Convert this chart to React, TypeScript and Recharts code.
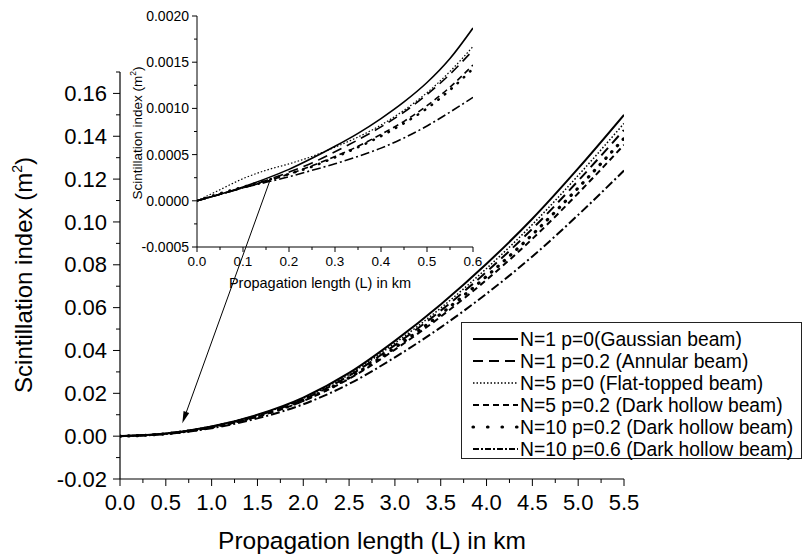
import React from 'react';
import { LineChart, Line, XAxis, YAxis, Legend, ReferenceLine } from 'recharts';

const FONT = '"Liberation Sans", Arial, Helvetica, sans-serif';

// ---------- main chart data ----------
const mainL = [0, 0.5, 1.0, 1.5, 2.0, 2.5, 3.0, 3.5, 4.0, 4.5, 5.0, 5.5];
const gaussianMain = [0, 0.0012, 0.0045, 0.01, 0.018, 0.0295, 0.0445, 0.0615, 0.0805, 0.1015, 0.125, 0.15];
const annularMain = [0, 0.0012, 0.0044, 0.0096, 0.0172, 0.0282, 0.0425, 0.0586, 0.0767, 0.0968, 0.1192, 0.143];
const flatMain = [0, 0.0013, 0.0046, 0.0099, 0.0176, 0.0288, 0.0434, 0.0598, 0.0783, 0.0988, 0.1217, 0.146];
const dark5Main = [0, 0.0011, 0.0041, 0.0091, 0.0164, 0.0268, 0.0404, 0.0558, 0.073, 0.0921, 0.1134, 0.136];
const dark10Main = [0, 0.0011, 0.0042, 0.0093, 0.0167, 0.0273, 0.0413, 0.057, 0.0746, 0.0941, 0.1159, 0.139];
const dark106Main = [0, 0.001, 0.0037, 0.0083, 0.0149, 0.0244, 0.0368, 0.0508, 0.0665, 0.0839, 0.1033, 0.124];

// ---------- inset data ----------
const insetL = [0, 0.05, 0.1, 0.15, 0.2, 0.25, 0.3, 0.35, 0.4, 0.45, 0.5, 0.55, 0.6];
const gaussianInset = [0, 0.00007, 0.00015, 0.00024, 0.00034, 0.00046, 0.00059, 0.00073, 0.00089, 0.00107, 0.00128, 0.00154, 0.00187];
const annularInset = [0, 0.00007, 0.00014, 0.00022, 0.00031, 0.00041, 0.00053, 0.00066, 0.0008, 0.00096, 0.00115, 0.00137, 0.00163];
const flatInset = [0, 0.00012, 0.00024, 0.00033, 0.0004, 0.00048, 0.00058, 0.00069, 0.00082, 0.00098, 0.00117, 0.0014, 0.00167];
const dark5Inset = [0, 0.00007, 0.00014, 0.00021, 0.00029, 0.00038, 0.00048, 0.00059, 0.00072, 0.00086, 0.00103, 0.00123, 0.00147];
const dark10Inset = [0, 0.00008, 0.00015, 0.00022, 0.00029, 0.00037, 0.00047, 0.00058, 0.0007, 0.00084, 0.001, 0.0012, 0.00143];
const dark106Inset = [0, 0.00007, 0.00014, 0.0002, 0.00026, 0.00033, 0.0004, 0.00048, 0.00057, 0.00068, 0.00081, 0.00096, 0.00112];

// ---------- ticks ----------
const mainXMajor = [0, 0.5, 1, 1.5, 2, 2.5, 3, 3.5, 4, 4.5, 5, 5.5];
const mainXLabels = ['0.0', '0.5', '1.0', '1.5', '2.0', '2.5', '3.0', '3.5', '4.0', '4.5', '5.0', '5.5'];
const mainXMinor = [0.25, 0.75, 1.25, 1.75, 2.25, 2.75, 3.25, 3.75, 4.25, 4.75, 5.25];
const mainYMajor = [-0.02, 0, 0.02, 0.04, 0.06, 0.08, 0.1, 0.12, 0.14, 0.16];
const mainYLabels = ['-0.02', '0.00', '0.02', '0.04', '0.06', '0.08', '0.10', '0.12', '0.14', '0.16'];
const mainYMinor = [-0.01, 0.01, 0.03, 0.05, 0.07, 0.09, 0.11, 0.13, 0.15, 0.17];

const insetXMajor = [0, 0.1, 0.2, 0.3, 0.4, 0.5, 0.6];
const insetXLabels = ['0.0', '0.1', '0.2', '0.3', '0.4', '0.5', '0.6'];
const insetXMinor = [0.05, 0.15, 0.25, 0.35, 0.45, 0.55];
const insetYMajor = [-0.0005, 0, 0.0005, 0.001, 0.0015, 0.002];
const insetYLabels = ['-0.0005', '0.0000', '0.0005', '0.0010', '0.0015', '0.0020'];
const insetYMinor = [-0.00025, 0.00025, 0.00075, 0.00125, 0.00175];

// arrow annotation (main-chart data coordinates)
const arrowFrom = { x: 1.644, y: 0.1203 };
const arrowTo = { x: 0.68, y: 0.006 };

const seriesNames = [
  'N=1 p=0(Gaussian beam)',
  'N=1 p=0.2 (Annular beam)',
  'N=5 p=0 (Flat-topped beam)',
  'N=5 p=0.2 (Dark hollow beam)',
  'N=10 p=0.2 (Dark hollow beam)',
  'N=10 p=0.6 (Dark hollow beam)',
];
const seriesKeys = ['g', 'a', 'f', 'd5', 'd10', 'd106'];

type Style = { dash?: string; w: number; cap?: 'round' | 'butt'; legendDash?: string };
const styles: Style[] = [
  { w: 2 },
  { dash: '10 6', w: 2 },
  { dash: '1.5 2', w: 1.5 },
  { dash: '6 4', w: 2 },
  { dash: '0.5 8', w: 3.2, cap: 'round', legendDash: '0.5 14' },
  { dash: '9 3 2 3', w: 2, legendDash: '6 2 2 2' },
];

const mainData = mainL.map((L, i) => ({
  L,
  g: gaussianMain[i],
  a: annularMain[i],
  f: flatMain[i],
  d5: dark5Main[i],
  d10: dark10Main[i],
  d106: dark106Main[i],
}));

const insetData = insetL.map((L, i) => ({
  L,
  g: gaussianInset[i],
  a: annularInset[i],
  f: flatInset[i],
  d5: dark5Inset[i],
  d10: dark10Inset[i],
  d106: dark106Inset[i],
}));

const findIdx = (arr: number[], v: number) => arr.findIndex((m) => Math.abs(m - v) < 1e-9);

const makeXTick = (majors: number[], labels: string[], majLen: number, minLen: number, fontSize: number, labelDy: number) =>
  (props: any) => {
    const { x, y, payload } = props;
    const idx = findIdx(majors, payload.value);
    const len = idx >= 0 ? majLen : minLen;
    return (
      <g>
        <line x1={x} x2={x} y1={y} y2={y + len} stroke="#000" strokeWidth={1} />
        {idx >= 0 && (
          <text x={x} y={y + labelDy} textAnchor="middle" fontSize={fontSize} fontFamily={FONT} fill="#000">
            {labels[idx]}
          </text>
        )}
      </g>
    );
  };

const makeYTick = (majors: number[], labels: string[], majLen: number, minLen: number, fontSize: number, gap: number) =>
  (props: any) => {
    const { x, y, payload } = props;
    const idx = findIdx(majors, payload.value);
    const len = idx >= 0 ? majLen : minLen;
    return (
      <g>
        <line x1={x - len} x2={x} y1={y} y2={y} stroke="#000" strokeWidth={1} />
        {idx >= 0 && (
          <text x={x - majLen - gap} y={y + fontSize * 0.35} textAnchor="end" fontSize={fontSize} fontFamily={FONT} fill="#000">
            {labels[idx]}
          </text>
        )}
      </g>
    );
  };

const ArrowShape = (p: any) => {
  const { x1, y1, x2, y2 } = p;
  if ([x1, y1, x2, y2].some((v) => typeof v !== 'number' || isNaN(v))) return <g />;
  const ang = Math.atan2(y2 - y1, x2 - x1);
  const L = 12;
  const W = 3;
  const bx = x2 - L * Math.cos(ang);
  const by = y2 - L * Math.sin(ang);
  const px = -Math.sin(ang) * W;
  const py = Math.cos(ang) * W;
  return (
    <g>
      <line x1={x1} y1={y1} x2={bx} y2={by} stroke="#000" strokeWidth={1} />
      <polygon points={`${x2},${y2} ${bx + px},${by + py} ${bx - px},${by - py}`} fill="#000" />
    </g>
  );
};

const LegendBox = () => (
  <div
    style={{
      width: 341,
      height: 137,
      border: '1px solid #222',
      background: '#fff',
      boxSizing: 'border-box',
      position: 'relative',
    }}
  >
    <svg width={341} height={137} style={{ position: 'absolute', left: 0, top: 0, overflow: 'visible' }}>
      {seriesNames.map((name, i) => {
        const cy = 16 + i * 22;
        const s = styles[i];
        return (
          <g key={name}>
            <line
              x1={11}
              x2={56}
              y1={cy}
              y2={cy}
              stroke="#000"
              strokeWidth={s.w}
              strokeDasharray={s.legendDash ?? s.dash}
              strokeLinecap={s.cap ?? 'butt'}
            />
            <text x={58} y={cy + 6.5} fontSize={19.3} fontFamily={FONT} fill="#000">
              {name}
            </text>
          </g>
        );
      })}
    </svg>
  </div>
);

const MainXTick = makeXTick(mainXMajor, mainXLabels, 7, 4, 22, 31);
const MainYTick = makeYTick(mainYMajor, mainYLabels, 7, 4, 22, 6);
const InsetXTick = makeXTick(insetXMajor, insetXLabels, 5, 3, 13.5, 19);
const InsetYTick = makeYTick(insetYMajor, insetYLabels, 5, 3, 14, 3);

export default function App() {
  return (
    <div style={{ position: 'absolute', left: 0, top: 0, width: 802, height: 556, overflow: 'hidden', background: '#fff' }}>
      {/* main chart */}
      <div style={{ position: 'absolute', left: 0, top: 0 }}>
        <LineChart width={802} height={556} data={mainData} margin={{ top: 72, right: 178, bottom: 0, left: 0 }}>
          <XAxis
            dataKey="L"
            type="number"
            domain={[0, 5.5]}
            ticks={[...mainXMajor, ...mainXMinor].sort((p, q) => p - q)}
            interval={0}
            tickLine={false}
            tickSize={0}
            tickMargin={0}
            tick={MainXTick}
            height={77}
            axisLine={{ stroke: '#000', strokeWidth: 1.2 }}
            allowDataOverflow
          />
          <YAxis
            type="number"
            domain={[-0.02, 0.17]}
            ticks={[...mainYMajor, ...mainYMinor].sort((p, q) => p - q)}
            interval={0}
            tickLine={false}
            tickSize={0}
            tickMargin={0}
            tick={MainYTick}
            width={120}
            axisLine={{ stroke: '#000', strokeWidth: 1.2 }}
            allowDataOverflow
          />
          <Legend
            layout="vertical"
            align="center"
            verticalAlign="middle"
            content={() => <LegendBox />}
            wrapperStyle={{ position: 'absolute', left: 461, top: 322, width: 341, height: 137 }}
          />
          <ReferenceLine
            segment={[arrowFrom, arrowTo]}
            ifOverflow="visible"
            stroke="#000"
            shape={ArrowShape}
          />
          {seriesKeys.map((k, i) => (
            <Line
              key={k}
              dataKey={k}
              name={seriesNames[i]}
              type="monotone"
              stroke="#000"
              strokeWidth={styles[i].w}
              strokeDasharray={styles[i].dash}
              strokeLinecap={styles[i].cap ?? 'butt'}
              dot={false}
              activeDot={false}
              isAnimationActive={false}
              legendType="line"
            />
          ))}
        </LineChart>
      </div>

      {/* inset chart */}
      <div style={{ position: 'absolute', left: 110, top: 0 }}>
        <LineChart width={380} height={300} data={insetData} margin={{ top: 16, right: 17, bottom: 0, left: 0 }}>
          <XAxis
            dataKey="L"
            type="number"
            domain={[0, 0.6]}
            ticks={[...insetXMajor, ...insetXMinor].sort((p, q) => p - q)}
            interval={0}
            tickLine={false}
            tickSize={0}
            tickMargin={0}
            tick={InsetXTick}
            height={53}
            axisLine={{ stroke: '#000', strokeWidth: 1 }}
            allowDataOverflow
          />
          <YAxis
            type="number"
            domain={[-0.0005, 0.002]}
            ticks={[...insetYMajor, ...insetYMinor].sort((p, q) => p - q)}
            interval={0}
            tickLine={false}
            tickSize={0}
            tickMargin={0}
            tick={InsetYTick}
            width={87}
            axisLine={{ stroke: '#000', strokeWidth: 1 }}
            allowDataOverflow
          />
          {seriesKeys.map((k, i) => (
            <Line
              key={k}
              dataKey={k}
              name={seriesNames[i]}
              type="monotone"
              stroke="#000"
              strokeWidth={styles[i].w * 0.8}
              strokeDasharray={styles[i].dash}
              strokeLinecap={styles[i].cap ?? 'butt'}
              dot={false}
              activeDot={false}
              isAnimationActive={false}
            />
          ))}
        </LineChart>
      </div>

      {/* axis titles */}
      <svg width={802} height={556} style={{ position: 'absolute', left: 0, top: 0, pointerEvents: 'none' }}>
        <text x={372} y={549} textAnchor="middle" fontSize={24.5} fontFamily={FONT} fill="#000">
          Propagation length (L) in km
        </text>
        <text transform="translate(32,275) rotate(-90)" textAnchor="middle" fontSize={24} fontFamily={FONT} fill="#000">
          Scintillation index (m<tspan dy={-10} fontSize={14}>2</tspan>
          <tspan dy={10}>)</tspan>
        </text>
        <text x={320} y={288} textAnchor="middle" fontSize={14.5} fontFamily={FONT} fill="#000">
          Propagation length (L) in km
        </text>
        <text transform="translate(142,133) rotate(-90)" textAnchor="middle" fontSize={13.5} fontFamily={FONT} fill="#000">
          Scintillation index (m<tspan dy={-6} fontSize={8.5}>2</tspan>
          <tspan dy={6}>)</tspan>
        </text>
      </svg>
    </div>
  );
}
